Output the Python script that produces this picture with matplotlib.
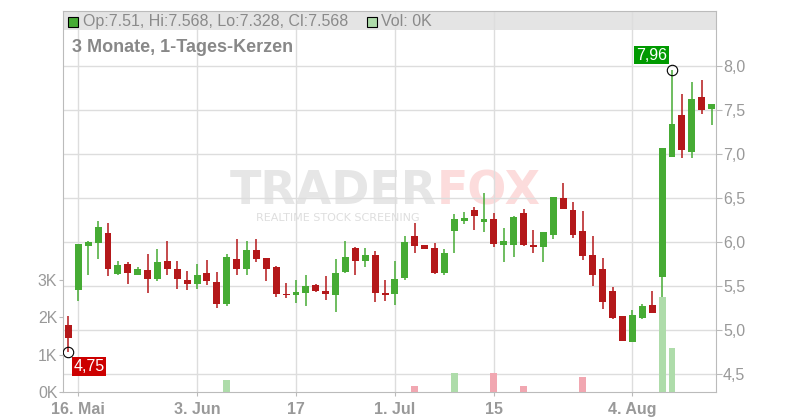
import matplotlib
matplotlib.use("Agg")
import matplotlib.pyplot as plt
import numpy as np
import pandas as pd
from matplotlib.patches import Rectangle

plt.rcParams['font.family'] = ['Liberation Sans', 'DejaVu Sans']

# Tageskerzen 15.05. - 14.08.
dates = pd.bdate_range("2025-05-15", "2025-08-14")

opens = [5.06, 5.45, 5.95, 5.99, 6.10, 5.64, 5.75, 5.63, 5.68, 5.58,
         5.78, 5.69, 5.57, 5.52, 5.65, 5.55, 5.30, 5.81, 5.69, 5.91,
         5.82, 5.72, 5.41, 5.40, 5.42, 5.51, 5.44, 5.40, 5.66, 5.93,
         5.78, 5.85, 5.42, 5.41, 5.59, 6.07, 5.97, 5.93, 5.65, 6.12,
         6.24, 6.36, 6.23, 6.26, 5.97, 5.97, 6.33, 5.97, 5.94, 6.08,
         6.50, 6.36, 6.12, 5.85, 5.69, 5.44, 5.16, 4.86, 5.14, 5.28,
         5.60, 6.97, 7.44, 7.02, 7.65, 7.51]
highs = [5.16, 5.98, 6.01, 6.24, 6.21, 5.78, 5.77, 5.71, 5.86, 5.92,
         6.01, 5.78, 5.67, 5.75, 5.79, 5.66, 5.86, 6.03, 6.01, 6.03,
         5.82, 5.73, 5.53, 5.57, 5.63, 5.52, 5.61, 5.81, 6.01, 5.94,
         5.93, 5.90, 5.57, 5.78, 6.07, 6.21, 5.97, 5.99, 5.92, 6.32,
         6.34, 6.40, 6.56, 6.33, 6.16, 6.30, 6.38, 6.14, 6.11, 6.51,
         6.67, 6.46, 6.35, 6.07, 5.82, 5.49, 5.16, 5.23, 5.30, 5.44,
         7.07, 7.96, 7.68, 7.82, 7.84, 7.568]
lows = [4.75, 5.33, 5.62, 5.81, 5.61, 5.62, 5.52, 5.62, 5.42, 5.56,
        5.62, 5.46, 5.45, 5.47, 5.51, 5.25, 5.27, 5.63, 5.63, 5.77,
        5.56, 5.37, 5.36, 5.31, 5.27, 5.43, 5.34, 5.20, 5.65, 5.63,
        5.72, 5.32, 5.33, 5.28, 5.57, 5.87, 5.92, 5.64, 5.63, 5.87,
        6.20, 6.14, 6.11, 5.94, 5.77, 5.83, 5.95, 5.88, 5.77, 6.03,
        6.37, 6.05, 5.80, 5.50, 5.24, 5.12, 4.87, 4.86, 5.12, 5.19,
        5.37, 6.97, 6.95, 6.96, 7.46, 7.328]
closes = [4.91, 5.98, 6.00, 6.17, 5.69, 5.74, 5.65, 5.69, 5.58, 5.77,
          5.69, 5.58, 5.52, 5.63, 5.56, 5.30, 5.83, 5.69, 5.91, 5.81,
          5.69, 5.41, 5.40, 5.43, 5.50, 5.44, 5.41, 5.65, 5.83, 5.78,
          5.85, 5.42, 5.40, 5.58, 6.00, 5.95, 5.92, 5.65, 5.88, 6.26,
          6.27, 6.29, 6.26, 5.98, 6.01, 6.28, 5.97, 5.94, 6.11, 6.51,
          6.37, 6.08, 5.84, 5.63, 5.32, 5.14, 4.88, 5.17, 5.27, 5.19,
          7.07, 7.34, 7.04, 7.63, 7.50, 7.568]
# Volumen in Tausend
volumes = [0, 0, 0, 0, 0, 0, 0, 0, 0, 0,
           0, 0, 0, 0, 0, 0, 0.32, 0, 0, 0,
           0, 0, 0, 0, 0, 0, 0, 0, 0, 0,
           0, 0, 0, 0, 0, 0.16, 0, 0, 0, 0.51,
           0, 0, 0, 0.51, 0, 0, 0.16, 0, 0, 0,
           0, 0, 0.40, 0, 0, 0, 0, 0, 0, 0,
           2.55, 1.18, 0, 0, 0, 0]

tick_dates = ["2025-05-16", "2025-06-03", "2025-06-17", "2025-07-01", "2025-07-15", "2025-08-04"]
tick_labels = ["16. Mai", "3. Jun", "17", "1. Jul", "15", "4. Aug"]
price_ticks = [4.5, 5.0, 5.5, 6.0, 6.5, 7.0, 7.5, 8.0]
vol_ticks = [0, 1, 2, 3]

GREEN = "#46ab34"
RED = "#b4181a"
VOL_GREEN = "#aedcaa"
VOL_RED = "#f1a7b1"
GREY_TXT = "#999999"

x = np.arange(len(dates))
o = np.array(opens); h = np.array(highs); l = np.array(lows); c = np.array(closes)
up = c >= o

fig = plt.figure(figsize=(8, 4.2), dpi=100)
W, H = 800, 420
ax = fig.add_axes([63 / W, 1 - 392 / H, (716 - 63) / W, (392 - 11) / H])
ax2 = ax.twinx()   # Volumenachse (links)

ax.set_xlim(-0.55, 65.45)
ax.set_ylim(4.295, 8.625)

# Gitter
ax.set_axisbelow(True)
ax.grid(True, color="#dddddd", lw=1)

# Kopfzeile (grauer Balken)
ax.add_patch(Rectangle((0, 1 - 19 / 381), 1, 19 / 381, transform=ax.transAxes,
                       facecolor="#e4e4e4", edgecolor="none", zorder=0.2))

# Wasserzeichen
ax.text(437 / W, 1 - 192 / H, "TRADER", transform=fig.transFigure, fontsize=33, fontweight="heavy",
        color="#e6e6e6", ha="right", va="center", family="DejaVu Sans", zorder=0.3)
ax.text(437 / W, 1 - 192 / H, "FOX", transform=fig.transFigure, fontsize=33, fontweight="heavy",
        color="#fcdcdc", ha="left", va="center", family="DejaVu Sans", zorder=0.3)
ax.text(338 / W, 1 - 218 / H, "REALTIME STOCK SCREENING", transform=fig.transFigure, fontsize=8,
        color="#dedede", ha="center", va="center", family="DejaVu Sans", zorder=0.3)

# Kerzen
colors = np.where(up, GREEN, RED)
ax.vlines(x, l, h, colors=colors, lw=1.1, zorder=2)
body_lo = np.minimum(o, c)
body_h = np.maximum(np.abs(c - o), 0.012)
ax.bar(x, body_h, bottom=body_lo, width=0.7, color=colors, edgecolor="none", zorder=3)

# Hoch / Tief
i_hi = int(np.argmax(h))
i_lo = int(np.argmin(l))
ax.plot([x[i_hi], x[i_lo]], [h[i_hi], l[i_lo]], "o", ms=7.5, mfc="none", mec="black", mew=0.8, zorder=5)
ax.annotate(f"{h[i_hi]:.2f}".replace(".", ","), (x[i_hi], h[i_hi]), xytext=(-5, 7),
            textcoords="offset pixels", ha="right", va="bottom", color="white", fontsize=11.5,
            bbox=dict(boxstyle="square,pad=0.12", fc="#009a00", ec="none"), zorder=6)
ax.annotate(f"{l[i_lo]:.2f}".replace(".", ","), (x[i_lo], l[i_lo]), xytext=(5, -7),
            textcoords="offset pixels", ha="left", va="top", color="white", fontsize=11.5,
            bbox=dict(boxstyle="square,pad=0.12", fc="#cc0000", ec="none"), zorder=6)

# Achsen
tick_pos = [dates.get_loc(pd.Timestamp(d)) for d in tick_dates]
ax.set_xticks(tick_pos)
ax.set_xticklabels(tick_labels, fontweight="bold", color=GREY_TXT, fontsize=11.5)
ax.tick_params(axis="x", length=3, color="#bbbbbb", pad=4)
ax.set_yticks(price_ticks)
ax.set_yticklabels([f"{p:.1f}".replace(".", ",") for p in price_ticks], color=GREY_TXT, fontsize=11.5)
ax.tick_params(axis="y", left=False, labelleft=False, right=True, labelright=True,
               length=4, color="#bbbbbb", pad=1)
for s in ax.spines.values():
    s.set_color("#bbbbbb")

# Volumen
ax2.set_ylim(0, 381 / 37.33)
vcol = np.where(up, VOL_GREEN, VOL_RED)
ax2.bar(x, volumes, width=0.7, color=vcol, edgecolor="none", zorder=4)
ax2.set_yticks(vol_ticks)
ax2.set_yticklabels([f"{v}K" for v in vol_ticks], color=GREY_TXT, fontsize=11.5)
ax2.tick_params(axis="y", left=True, labelleft=True, right=False, labelright=False,
                length=3, color="#bbbbbb", pad=1)
for s in ax2.spines.values():
    s.set_visible(False)

# Kopfzeilentext
fig.add_artist(Rectangle((68 / W, 1 - 27 / H), 10 / W, 10 / H, transform=fig.transFigure,
                         facecolor=GREEN, edgecolor="black", lw=0.8))
fig.text(83 / W, 1 - 21.5 / H, f"Op:{opens[-1]}, Hi:{highs[-1]}, Lo:{lows[-1]}, Cl:{closes[-1]}",
         fontsize=11.5, color="#8a8a8a", va="center")
fig.add_artist(Rectangle((367 / W, 1 - 27 / H), 10 / W, 10 / H, transform=fig.transFigure,
                         facecolor=VOL_GREEN, edgecolor="black", lw=0.8))
fig.text(381 / W, 1 - 21.5 / H, f"Vol: {volumes[-1]}K", fontsize=11.5, color="#8a8a8a", va="center")
fig.text(72 / W, 1 - 48 / H, "3 Monate, 1-Tages-Kerzen", fontsize=13, fontweight="bold",
         color="#888888", va="center")

fig.savefig("out.png", dpi=100)
